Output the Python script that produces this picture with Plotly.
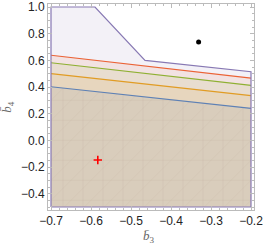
import numpy as np
import plotly.graph_objects as go

# ---- data ----
outer_b3 = [-0.7, -0.7, -0.59, -0.465, -0.2, -0.2]
outer_b4 = [-0.5, 1.0, 1.0, 0.60, 0.515, -0.5]

edge_b3 = [-0.7, -0.2]
red_b4 = [0.638, 0.466]
green_b4 = [0.582, 0.412]
orange_b4 = [0.500, 0.335]
blue_b4 = [0.402, 0.240]

b4_bottom = -0.5

point_black = ([-0.331], [0.738])
point_red = ([-0.583], [-0.148])

x_ticks = [-0.7, -0.6, -0.5, -0.4, -0.3, -0.2]
y_ticks = [-0.4, -0.2, 0.0, 0.2, 0.4, 0.6, 0.8, 1.0]

C_BLUE = (94, 129, 181)
C_ORANGE = (225, 156, 36)
C_GREEN = (143, 176, 50)
C_RED = (235, 98, 53)
C_PURPLE = (135, 120, 179)
ALPHA = 0.1


def rgba(c, a):
    return f"rgba({c[0]},{c[1]},{c[2]},{a})"


fig = go.Figure()

# outer (purple) region
fig.add_trace(go.Scatter(x=outer_b3 + [outer_b3[0]], y=outer_b4 + [outer_b4[0]],
                         mode="lines", fill="toself", fillcolor=rgba(C_PURPLE, ALPHA),
                         line=dict(width=0), hoverinfo="skip", showlegend=False))

bands = [(red_b4, C_RED), (green_b4, C_GREEN), (orange_b4, C_ORANGE), (blue_b4, C_BLUE)]
for yb, col in bands:
    xs = [edge_b3[0], edge_b3[0], edge_b3[1], edge_b3[1], edge_b3[0]]
    ys = [b4_bottom, yb[0], yb[1], b4_bottom, b4_bottom]
    fig.add_trace(go.Scatter(x=xs, y=ys, mode="lines", fill="toself",
                             fillcolor=rgba(col, ALPHA), line=dict(width=0),
                             hoverinfo="skip", showlegend=False))

# faint triangulation seams inside the lowest region
def blue_at(x):
    return np.interp(x, edge_b3, blue_b4)

mesh_x, mesh_y = [], []
for xv in np.arange(-0.67, -0.2, 0.05):
    mesh_x += [xv, xv, None]
    mesh_y += [b4_bottom, float(blue_at(xv)), None]
for yv in np.arange(-0.45, 0.4, 0.15):
    xs = np.linspace(-0.7, -0.2, 400)
    ok = xs[yv <= blue_at(xs)]
    if len(ok):
        mesh_x += [ok[0], ok[-1], None]
        mesh_y += [yv, yv, None]
for c in np.arange(-1.0, 0.0, 0.05):
    t = np.linspace(-0.5, 0.45, 800)
    xs = c + t / 3.0
    ok = (xs >= -0.7) & (xs <= -0.2) & (t <= blue_at(xs))
    if ok.any():
        mesh_x += [xs[ok][0], xs[ok][-1], None]
        mesh_y += [t[ok][0], t[ok][-1], None]
fig.add_trace(go.Scatter(x=mesh_x, y=mesh_y, mode="lines",
                         line=dict(color="rgba(190,165,150,0.25)", width=0.6),
                         hoverinfo="skip", showlegend=False))

for yb, col in bands:
    fig.add_trace(go.Scatter(x=edge_b3, y=yb, mode="lines",
                             line=dict(color=rgba(col, 1), width=1.2),
                             hoverinfo="skip", showlegend=False))

fig.add_trace(go.Scatter(x=outer_b3 + [outer_b3[0]], y=outer_b4 + [outer_b4[0]],
                         mode="lines", line=dict(color=rgba(C_PURPLE, 1), width=1.2),
                         hoverinfo="skip", showlegend=False))

fig.add_trace(go.Scatter(x=point_black[0], y=point_black[1], mode="markers",
                         marker=dict(color="black", size=5), showlegend=False))
fig.add_trace(go.Scatter(x=point_red[0], y=point_red[1], mode="markers",
                         marker=dict(symbol="cross-thin", size=6,
                                     line=dict(color="red", width=1.6)),
                         showlegend=False))

axis_common = dict(showgrid=False, zeroline=False, showline=True, linecolor="#bbbbbb",
                   linewidth=1, mirror="ticks", ticks="inside", ticklen=4,
                   tickcolor="#bbbbbb", tickwidth=1, automargin=False,
                   tickfont=dict(family="Liberation Sans, Arial", size=12, color="#222"))

fig.update_layout(
    width=265, height=248,
    margin=dict(l=48, r=11, t=4, b=38),
    paper_bgcolor="white", plot_bgcolor="white",
    xaxis=dict(range=[-0.7075, -0.1925], tickvals=x_ticks,
               ticktext=[f"\u2212{abs(v):.1f}" for v in x_ticks],
               minor=dict(dtick=0.02, tick0=-0.7, ticks="inside", ticklen=2,
                          tickcolor="#bbbbbb"),
               **axis_common),
    yaxis=dict(range=[-0.5225, 1.0225], tickvals=y_ticks,
               ticktext=[("\u2212" if v < 0 else "") + f"{abs(v):.1f}" for v in y_ticks],
               minor=dict(dtick=0.05, tick0=0, ticks="inside", ticklen=2,
                          tickcolor="#bbbbbb"),
               **axis_common),
    annotations=[
        dict(text="<i>b\u0304</i><sub>3</sub>", xref="paper", yref="paper",
             x=0.49, y=-0.08, yanchor="top", xanchor="center", showarrow=False,
             font=dict(family="Liberation Serif, Times New Roman", size=13, color="#666")),
        dict(text="<i>b\u0304</i><sub>4</sub>", xref="paper", yref="paper",
             x=-0.2, y=0.5, yanchor="middle", xanchor="center", showarrow=False,
             textangle=-90,
             font=dict(family="Liberation Serif, Times New Roman", size=13, color="#666")),
    ],
)

fig.write_html("out.html", config={"displayModeBar": False},
               post_script="document.body.style.margin='0';document.body.style.overflow='hidden';")
